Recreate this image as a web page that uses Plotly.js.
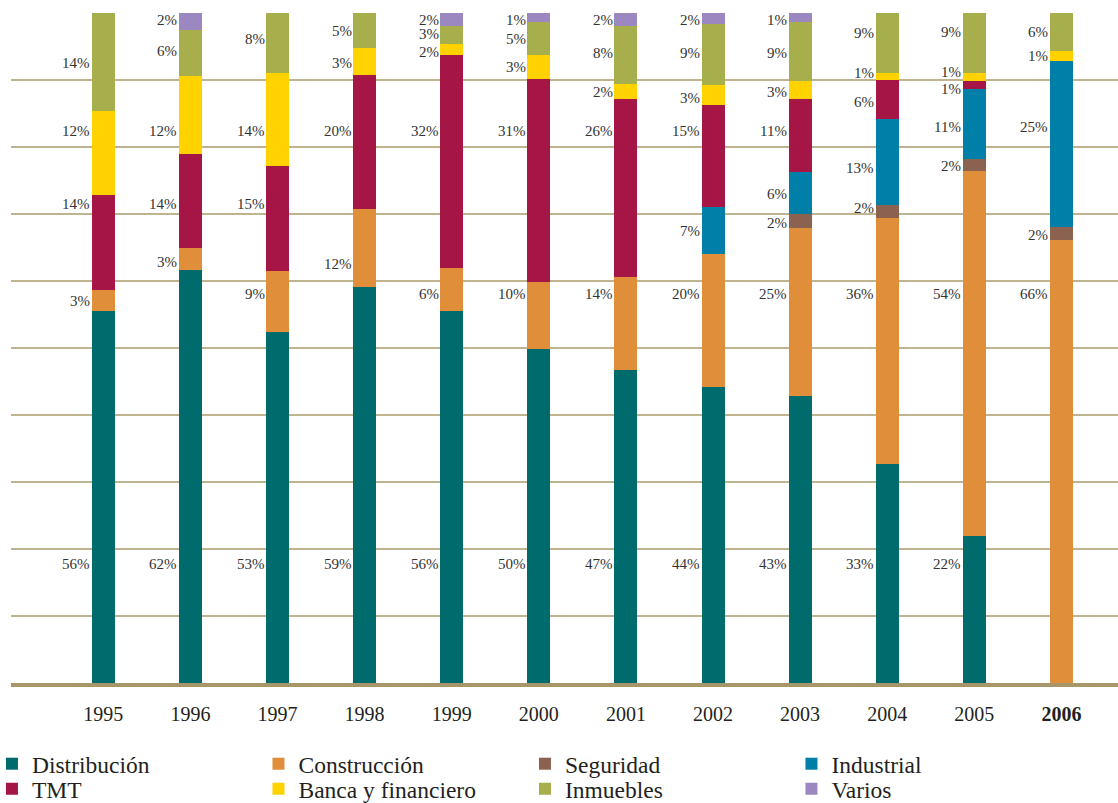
<!DOCTYPE html>
<html>
<head>
<meta charset="utf-8">
<script src="https://cdn.plot.ly/plotly-3.0.1.min.js"></script>
<style>html,body{margin:0;padding:0;background:#fff}#chart{width:1118px;height:803px}</style>
</head>
<body>
<div id="chart"></div>
<script>
// ---- categories ----
const years = ['1995','1996','1997','1998','1999','2000','2001','2002','2003','2004','2005','2006'];
const seriesNames = ['Distribución','Construcción','Seguridad','Industrial','TMT','Banca y financiero','Inmuebles','Varios'];

// ---- bar segment shares (% of each year) ----
const distribucion = [55.5, 61.7, 52.5, 59.1, 55.5, 49.8, 46.8, 44.2, 42.8, 32.7, 21.9, 0];
const construccion = [3.1, 3.3, 9.0, 11.6, 6.4, 10.0, 13.9, 19.8, 25.1, 36.7, 54.4, 66.1];
const seguridad    = [0, 0, 0, 0, 0, 0, 0, 0, 2.1, 1.9, 1.9, 1.9];
const industrial   = [0, 0, 0, 0, 0, 0, 0, 7.0, 6.2, 12.8, 10.3, 24.8];
const tmt          = [14.3, 14.0, 15.7, 20.1, 31.9, 30.4, 26.6, 15.2, 11.0, 5.8, 1.3, 0];
const banca        = [12.4, 11.6, 13.9, 4.0, 1.6, 3.6, 2.2, 3.1, 2.7, 1.0, 1.2, 1.5];
const inmuebles    = [14.7, 6.9, 9.0, 5.2, 2.7, 4.9, 8.7, 9.1, 8.8, 9.0, 8.9, 5.7];
const varios       = [0, 2.5, 0, 0, 1.9, 1.3, 1.9, 1.6, 1.3, 0, 0, 0];

// ---- published percentage labels (as printed on the chart) ----
const distribucionLabel = [56, 62, 53, 59, 56, 50, 47, 44, 43, 33, 22, 0];
const construccionLabel = [3, 3, 9, 12, 6, 10, 14, 20, 25, 36, 54, 66];
const seguridadLabel    = [0, 0, 0, 0, 0, 0, 0, 0, 2, 2, 2, 2];
const industrialLabel   = [0, 0, 0, 0, 0, 0, 0, 7, 6, 13, 11, 25];
const tmtLabel          = [14, 14, 15, 20, 32, 31, 26, 15, 11, 6, 1, 0];
const bancaLabel        = [12, 12, 14, 3, 2, 3, 2, 3, 3, 1, 1, 1];
const inmueblesLabel    = [14, 6, 8, 5, 3, 5, 8, 9, 9, 9, 9, 6];
const variosLabel       = [0, 2, 0, 0, 2, 1, 2, 2, 1, 0, 0, 0];

// ---- label placement (vertical position of each value label, in % of axis) ----
const labelYDistribucion = [17.7,17.7,17.7,17.7,17.7,17.7,17.7,17.7,17.7,17.7,17.7,null];
const labelYConstruccion = [57.0,62.9,58.1,62.6,58.1,58.1,58.1,58.1,58.1,58.1,58.1,58.1];
const labelYSeguridad    = [null,null,null,null,null,null,null,null,68.6,70.9,77.2,66.9];
const labelYIndustrial   = [null,null,null,null,null,null,null,67.4,73.0,76.9,83.0,83.0];
const labelYTmt          = [71.5,71.5,71.5,82.4,82.4,82.4,82.4,82.4,82.4,86.7,88.7,null];
const labelYBanca        = [82.4,82.4,82.4,92.5,94.2,92.0,88.2,87.3,88.2,91.1,91.2,93.6];
const labelYInmuebles    = [92.5,94.3,96.1,97.3,96.9,96.1,94.0,94.0,94.0,97.0,97.2,97.2];
const labelYVarios       = [null,99.0,null,null,99.0,99.0,99.0,99.0,99.0,null,null,null];

const colors = ['#006b6c','#e08e3a','#8b6150','#0080a8','#a51646','#ffd200','#a7ae4c','#9b88c0'];
const values = [distribucion, construccion, seguridad, industrial, tmt, banca, inmuebles, varios];
const labels = [distribucionLabel, construccionLabel, seguridadLabel, industrialLabel,
                tmtLabel, bancaLabel, inmueblesLabel, variosLabel];
const labelYs = [labelYDistribucion, labelYConstruccion, labelYSeguridad, labelYIndustrial,
                 labelYTmt, labelYBanca, labelYInmuebles, labelYVarios];

const FONT = 'Liberation Serif, Times New Roman, serif';

const traces = values.map((v, k) => ({
  type: 'bar',
  name: seriesNames[k],
  x: years,
  y: v,
  width: 0.264,
  marker: {color: colors[k], line: {width: 0}},
  legend: k < 4 ? 'legend' : 'legend2',
  hoverinfo: 'skip'
}));

const annotations = [];
labels.forEach((lab, k) => {
  lab.forEach((val, i) => {
    if (val > 0 && labelYs[k][i] !== null) {
      annotations.push({
        x: i, y: labelYs[k][i], xref: 'x', yref: 'y',
        text: val + '%', showarrow: false,
        xanchor: 'right', yanchor: 'middle', xshift: -11,
        font: {family: FONT, size: 15, color: '#333333'}
      });
    }
  });
});

const legendCommon = {
  orientation: 'h', x: -0.0172, xanchor: 'left', yanchor: 'middle',
  entrywidth: 221.5, entrywidthmode: 'pixels',
  font: {family: FONT, size: 23.5, color: '#231f20'},
  bgcolor: 'rgba(0,0,0,0)', traceorder: 'normal', itemclick: false, itemdoubleclick: false
};

const layout = {
  width: 1118, height: 803,
  margin: {l: 11, r: 0, t: 13, b: 120, pad: 0, autoexpand: false},
  paper_bgcolor: '#ffffff', plot_bgcolor: '#ffffff',
  barmode: 'stack', barnorm: 'percent',
  showlegend: true,
  legend: Object.assign({}, legendCommon, {y: -0.1208}),
  legend2: Object.assign({}, legendCommon, {y: -0.158}),
  xaxis: {
    type: 'category', range: [-1.06, 11.65], automargin: false,
    tickmode: 'array', tickvals: years,
    ticktext: years.map(y => y === '2006' ? '<b>' + y + '</b>' : y),
    tickfont: {family: FONT, size: 20, color: '#231f20'},
    ticklabelstandoff: 10,
    showline: true, linecolor: '#a6966a', linewidth: 4,
    ticks: '', showgrid: false, zeroline: false, fixedrange: true
  },
  yaxis: {
    range: [0, 100], dtick: 10, tick0: 0, automargin: false,
    showticklabels: false, ticks: '',
    showgrid: true, gridcolor: '#bfb390', gridwidth: 2,
    zeroline: false, showline: false, fixedrange: true
  },
  annotations: annotations
};

Plotly.newPlot('chart', traces, layout, {displayModeBar: false});
</script>
</body>
</html>
